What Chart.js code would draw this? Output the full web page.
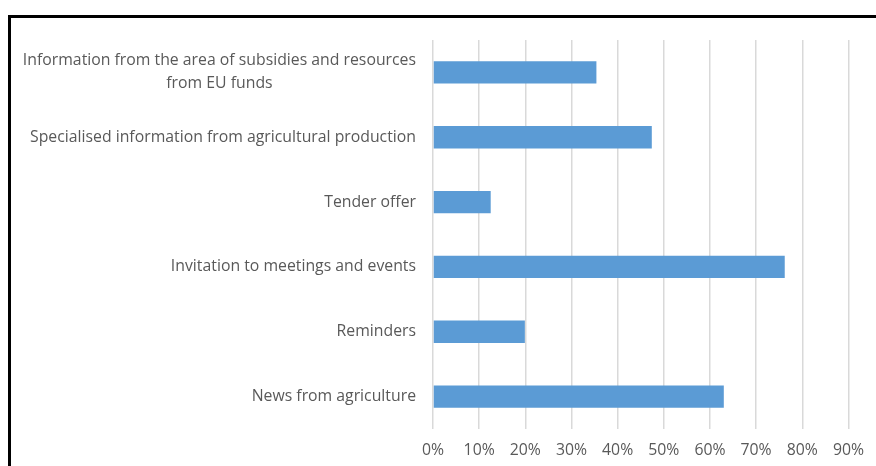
<!DOCTYPE html>
<html><head><meta charset="utf-8">
<script src="https://cdn.jsdelivr.net/npm/chart.js@4"></script>
<style>
html,body{margin:0;padding:0;width:876px;height:466px;overflow:hidden;background:#fff;}
#frame{position:absolute;left:8px;top:15px;width:900px;height:500px;border:3px solid #000;box-sizing:border-box;}
#wrap{position:absolute;left:0;top:0;width:876px;height:466px;}
</style></head><body>
<div id="frame"></div>
<div id="wrap"><canvas id="c" width="876" height="466"></canvas></div>
<script>
const categories = [
  ["Information from the area of subsidies and resources", "from EU funds"],
  "Specialised information from agricultural production",
  "Tender offer",
  "Invitation to meetings and events",
  "Reminders",
  "News from agriculture"
];
const values = [35.4, 47.4, 12.5, 76.2, 19.9, 63.0];
const tickLabels = ["0%", "10%", "20%", "30%", "40%", "50%", "60%", "70%", "80%", "90%"];

const FONT_FAMILY = "'Open Sans', sans-serif";
const FONT_SIZE = 15.8;
const TEXT_COLOR = "#595959";

const yLabelPlugin = {
  id: 'yLabels',
  afterDraw(chart) {
    const s = chart.scales.y;
    const ctx = chart.ctx;
    ctx.save();
    ctx.font = FONT_SIZE + "px " + FONT_FAMILY;
    ctx.fillStyle = TEXT_COLOR;
    ctx.textBaseline = 'middle';
    const right = s.right - 17;
    const lh = 23;
    categories.forEach((lab, i) => {
      const y = s.getPixelForTick(i);
      const lines = Array.isArray(lab) ? lab : [lab];
      if (lines.length === 1) {
        ctx.textAlign = 'right';
        ctx.fillText(lines[0], right, y);
      } else {
        const w = Math.max(...lines.map(l => ctx.measureText(l).width));
        ctx.textAlign = 'center';
        lines.forEach((ln, j) => ctx.fillText(ln, right - w / 2, y + (j - (lines.length - 1) / 2) * lh));
      }
    });
    ctx.restore();
  }
};

new Chart(document.getElementById('c'), {
  type: 'bar',
  data: {
    labels: categories,
    datasets: [{
      data: values,
      backgroundColor: '#5b9bd5',
      borderWidth: 0,
      categoryPercentage: 1,
      barPercentage: 0.345
    }]
  },
  options: {
    indexAxis: 'y',
    responsive: false,
    animation: false,
    layout: { padding: { top: 40, right: 26, left: 0, bottom: 0 } },
    plugins: { legend: { display: false }, tooltip: { enabled: false } },
    scales: {
      x: {
        min: 0, max: 90,
        ticks: {
          stepSize: 10,
          color: TEXT_COLOR,
          font: { family: FONT_FAMILY, size: FONT_SIZE },
          padding: 12,
          maxRotation: 0,
          callback: (v, i) => tickLabels[i]
        },
        grid: { color: '#d9d9d9', lineWidth: 1.5, drawTicks: false },
        border: { display: false },
        afterFit: s => { s.height = 37; }
      },
      y: {
        ticks: { display: false },
        grid: { display: false },
        border: { display: false },
        afterFit: s => { s.width = 433; }
      }
    }
  },
  plugins: [yLabelPlugin]
});
</script>
</body></html>
